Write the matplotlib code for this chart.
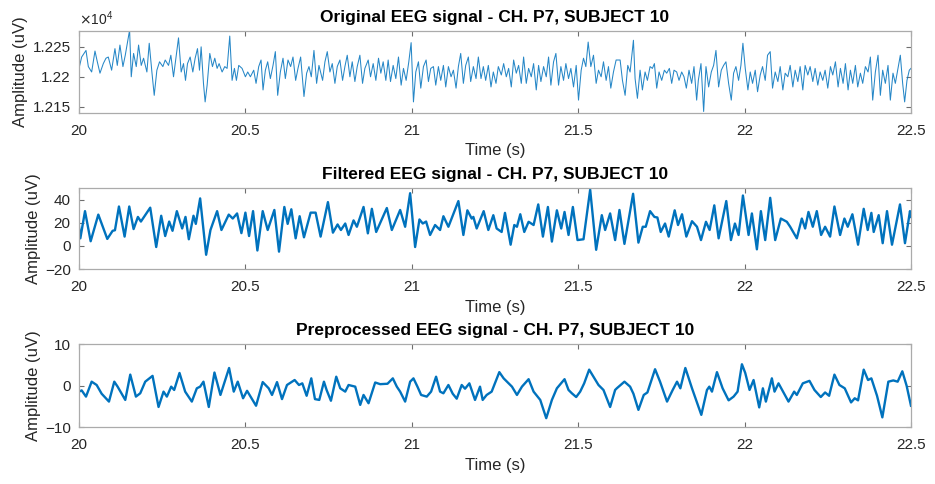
import numpy as np
import matplotlib
matplotlib.use("Agg")
import matplotlib.pyplot as plt
from matplotlib.ticker import FuncFormatter

plt.rcParams['font.family'] = ['Liberation Sans', 'DejaVu Sans']

# ---- data (time in s, amplitude in uV) ----
t_raw = [20.000, 20.008, 20.021, 20.028, 20.038, 20.048, 20.055, 20.063, 20.073, 20.081,
         20.088, 20.098, 20.108, 20.115, 20.123, 20.132, 20.139, 20.152, 20.157, 20.164,
         20.172, 20.179, 20.187, 20.194, 20.204, 20.211, 20.219, 20.226, 20.234, 20.242,
         20.252, 20.259, 20.269, 20.276, 20.284, 20.291, 20.299, 20.307, 20.314, 20.320,
         20.326, 20.334, 20.342, 20.349, 20.356, 20.362, 20.367, 20.374, 20.379, 20.385,
         20.393, 20.401, 20.408, 20.415, 20.421, 20.430, 20.438, 20.445, 20.453, 20.460,
         20.467, 20.473, 20.480, 20.490, 20.500, 20.507, 20.515, 20.525, 20.532, 20.540,
         20.547, 20.553, 20.560, 20.567, 20.575, 20.583, 20.590, 20.597, 20.605, 20.613,
         20.620, 20.628, 20.636, 20.643, 20.651, 20.658, 20.666, 20.676, 20.684, 20.691,
         20.698, 20.706, 20.714, 20.721,
         20.732, 20.739, 20.746, 20.754, 20.761, 20.769, 20.776, 20.784, 20.792, 20.799,
         20.806, 20.814, 20.821, 20.829, 20.836, 20.844, 20.852, 20.859, 20.869, 20.876,
         20.884, 20.892, 20.900, 20.907, 20.914, 20.922, 20.929, 20.936, 20.944, 20.952,
         20.960, 20.968, 20.975, 20.983, 20.991, 20.998, 21.005, 21.012, 21.020, 21.027,
         21.035, 21.043, 21.050, 21.057, 21.065, 21.072, 21.080, 21.087, 21.095, 21.102,
         21.110, 21.118, 21.125, 21.133, 21.140, 21.147, 21.155, 21.162, 21.170, 21.177,
         21.185, 21.193, 21.200, 21.208, 21.215, 21.222, 21.230, 21.238, 21.245, 21.253,
         21.260, 21.269, 21.276, 21.284, 21.291, 21.299, 21.306, 21.314, 21.321, 21.329,
         21.336, 21.344, 21.351, 21.359, 21.366, 21.374, 21.381, 21.388, 21.396, 21.404,
         21.411, 21.418, 21.426, 21.433, 21.441, 21.448, 21.456, 21.463, 21.471, 21.478,
         21.486, 21.494, 21.501, 21.509, 21.516, 21.523, 21.530, 21.538, 21.546, 21.554,
         21.561, 21.569, 21.576, 21.584, 21.591, 21.598, 21.606, 21.614,
         21.626, 21.633, 21.641, 21.649, 21.656, 21.666, 21.671, 21.678, 21.686, 21.693,
         21.701, 21.708, 21.716, 21.723, 21.729, 21.736, 21.743, 21.751, 21.759, 21.766,
         21.774, 21.781, 21.788, 21.796, 21.803, 21.811, 21.818, 21.825, 21.833, 21.841,
         21.848, 21.856, 21.861, 21.869, 21.877, 21.884, 21.892, 21.900, 21.907, 21.914,
         21.922, 21.930, 21.937, 21.944, 21.952, 21.960, 21.967, 21.974, 21.982, 21.989,
         21.995, 22.002, 22.010, 22.017, 22.024, 22.032, 22.039, 22.047, 22.054, 22.062,
         22.069, 22.077, 22.084, 22.092, 22.100, 22.107, 22.115, 22.122, 22.130, 22.137,
         22.145, 22.152, 22.160, 22.167, 22.175, 22.182, 22.190, 22.197, 22.205, 22.212,
         22.220, 22.227, 22.235, 22.242, 22.250, 22.258, 22.265, 22.273, 22.281, 22.288,
         22.296, 22.303, 22.311, 22.318, 22.325, 22.333, 22.340, 22.348, 22.355, 22.363,
         22.371, 22.378, 22.385, 22.393, 22.401, 22.408, 22.415, 22.423, 22.431, 22.438,
         22.446, 22.453, 22.461, 22.468, 22.475, 22.481, 22.488, 22.495, 22.500]
v_raw = [12214, 12233, 12244, 12217, 12208, 12243, 12225, 12206, 12222, 12231,
         12233, 12211, 12247, 12219, 12253, 12217, 12236, 12278, 12200, 12239,
         12217, 12253, 12219, 12231, 12208, 12256, 12208, 12169, 12211, 12225,
         12217, 12228, 12219, 12236, 12200, 12231, 12265, 12208, 12222, 12194,
         12222, 12233, 12208, 12231, 12247, 12211, 12250, 12189, 12158, 12186,
         12239, 12217, 12231, 12214, 12222, 12208, 12217, 12214, 12268, 12194,
         12214, 12194, 12219, 12214, 12200, 12208, 12200, 12211, 12189, 12217,
         12228, 12178, 12211, 12225, 12197, 12219, 12242, 12169, 12208, 12231,
         12197, 12228, 12217, 12233, 12194, 12214, 12233, 12167, 12206, 12217,
         12200, 12244, 12189, 12219,
         12194, 12225, 12242, 12208, 12222, 12189, 12217, 12228, 12194, 12217,
         12236, 12200, 12225, 12192, 12217, 12236, 12189, 12214, 12228, 12200,
         12222, 12194, 12231, 12206, 12225, 12194, 12228, 12192, 12219, 12197,
         12233, 12186, 12214, 12194, 12225, 12257, 12158, 12208, 12225, 12181,
         12217, 12228, 12192, 12214, 12217, 12186, 12217, 12194, 12219, 12183,
         12217, 12200, 12211, 12181, 12217, 12239, 12189, 12219, 12233, 12192,
         12217, 12197, 12233, 12197, 12217, 12194, 12219, 12183, 12208, 12189,
         12217, 12203, 12222, 12200, 12214, 12183, 12228, 12206, 12219, 12189,
         12233, 12189, 12214, 12200, 12222, 12178, 12219, 12192, 12217, 12200,
         12233, 12186, 12225, 12239, 12186, 12217, 12194, 12222, 12197, 12214,
         12183, 12219, 12161, 12211, 12231, 12217, 12258, 12217, 12236, 12189,
         12211, 12200, 12225, 12194, 12217, 12181, 12208, 12228,
         12228, 12194, 12169, 12219, 12208, 12261, 12197, 12164, 12211, 12178,
         12208, 12194, 12217, 12214, 12222, 12181, 12208, 12194, 12211, 12206,
         12214, 12189, 12211, 12208, 12194, 12208, 12200, 12181, 12211, 12189,
         12217, 12161, 12194, 12222, 12142, 12217, 12183, 12208, 12219, 12244,
         12183, 12211, 12219, 12225, 12189, 12161, 12206, 12217, 12194, 12219,
         12256, 12214, 12178, 12208, 12189, 12211, 12175, 12203, 12217, 12194,
         12236, 12242, 12181, 12208, 12192, 12217, 12178, 12206, 12200, 12219,
         12183, 12211, 12192, 12217, 12178, 12219, 12203, 12217, 12192, 12214,
         12186, 12208, 12194, 12211, 12181, 12217, 12203, 12225, 12183, 12214,
         12189, 12222, 12178, 12211, 12189, 12219, 12183, 12206, 12189, 12217,
         12208, 12233, 12161, 12208, 12236, 12169, 12211, 12189, 12219, 12161,
         12206, 12189, 12214, 12236, 12189, 12158, 12194, 12211, 12214]

t_filt = [20.000, 20.004, 20.018, 20.035, 20.058, 20.085, 20.101, 20.108, 20.120, 20.137,
          20.151, 20.164, 20.177, 20.186, 20.214, 20.232, 20.247, 20.259, 20.271, 20.281,
          20.294, 20.310, 20.320, 20.330, 20.344, 20.351, 20.364, 20.382, 20.395, 20.415,
          20.428, 20.450, 20.462, 20.475, 20.488, 20.500, 20.511, 20.523, 20.536, 20.552,
          20.567, 20.587, 20.601, 20.617, 20.627, 20.638, 20.651, 20.663, 20.676, 20.696,
          20.711, 20.726, 20.748, 20.763, 20.777, 20.787, 20.800, 20.810, 20.825, 20.835,
          20.855, 20.868, 20.880, 20.893, 20.925, 20.940, 20.965, 20.980, 20.995, 21.010,
          21.023, 21.033, 21.043, 21.055, 21.070, 21.085, 21.095, 21.110, 21.140, 21.155,
          21.167, 21.180, 21.185, 21.195, 21.216, 21.230, 21.245, 21.255, 21.270, 21.280,
          21.297, 21.308, 21.316, 21.326, 21.338, 21.351, 21.366, 21.380, 21.394, 21.409,
          21.421, 21.436, 21.449, 21.459, 21.471, 21.484, 21.498, 21.516, 21.536, 21.554,
          21.571, 21.581, 21.596, 21.611, 21.624, 21.639, 21.665, 21.681, 21.694, 21.703,
          21.716, 21.729, 21.738, 21.748, 21.761, 21.772, 21.790, 21.800, 21.812, 21.825,
          21.842, 21.857, 21.869, 21.884, 21.895, 21.909, 21.922, 21.945, 21.959, 21.971,
          21.982, 21.995, 22.012, 22.022, 22.037, 22.049, 22.062, 22.077, 22.092, 22.109,
          22.127, 22.137, 22.157, 22.172, 22.182, 22.192, 22.205, 22.217, 22.230, 22.242,
          22.257, 22.270, 22.287, 22.300, 22.310, 22.324, 22.341, 22.358, 22.370, 22.381,
          22.388, 22.403, 22.415, 22.428, 22.443, 22.467, 22.482, 22.497, 22.500]
v_filt = [16.5, 6.5, 30, 4, 27, 6, 13, 13.5, 34, 8,
          34, 14.5, 25, 21, 33, -1, 26, 8.5, 21, 13,
          30, 15, 25, 5.7, 26, 19, 41, -7.7, 13.7, 30,
          13.7, 27, 23.6, 28, 11, 28.7, 8.5, 30, -4, 30,
          13.7, 31, -5, 33.6, 19, 31.6, 6.5, 25.6, 7.4, 28.7,
          28.7, 8, 37.8, 11.4, 18.5, 13.7, 19.3, 9.4, 22, 16.5,
          33.6, 10.8, 32, 12, 32.7, 13.7, 31, 16.5, 45.5, -1,
          22.8, 19.3, 21, 9.4, 18, 13.7, 25.6, 16.5, 38.7, 9.4,
          30.7, 23.6, 25, 15, 30, 13.7, 26.5, 15, 12, 28.5,
          1, 18, 16.5, 27.3, 12, 20.8, 18, 35.8, 8, 33.6,
          3.7, 30.7, 15, 29.3, 9.4, 33.6, 5, 5.7, 48.6, -3.4,
          26.5, 13.7, 28, 5, 31, 1.7, 45, 2.8, 16.5, 16.5,
          30, 25, 24.5, 12, 19.3, 8, 30.7, 18, 27.3, 8,
          21.3, 16.5, 5, 20.8, 13.7, 35, 6.5, 38.7, 5, 19.3,
          9.4, 43.5, 9.4, 28, -3, 30, 5, 41.5, 5, 23.6,
          20.8, 16.5, 6.5, 23.6, 15, 29.3, 16.5, 30, 9.4, 16.5,
          8, 34, 9.4, 23.6, 16.5, 27.3, 1, 32, 13.7, 28.5,
          12, 26.5, 2.3, 30, 1, 35.8, 2.3, 30, 25]

t_prep = [20.000, 20.008, 20.021, 20.038, 20.053, 20.068, 20.090, 20.106, 20.116, 20.139,
          20.154, 20.171, 20.184, 20.199, 20.221, 20.239, 20.254, 20.264, 20.277, 20.286,
          20.302, 20.319, 20.339, 20.354, 20.364, 20.374, 20.390, 20.407, 20.425, 20.451,
          20.465, 20.477, 20.493, 20.505, 20.532, 20.552, 20.570, 20.580, 20.595, 20.610,
          20.625, 20.648, 20.661, 20.671, 20.684, 20.698, 20.709, 20.722, 20.736, 20.744,
          20.757, 20.773, 20.785, 20.800, 20.810, 20.830, 20.845, 20.855, 20.870, 20.890,
          20.905, 20.927, 20.943, 20.955, 20.965, 20.980, 20.995, 21.005, 21.017, 21.028,
          21.045, 21.058, 21.073, 21.085, 21.095, 21.110, 21.123, 21.135, 21.150, 21.160,
          21.173, 21.190, 21.205, 21.213, 21.225, 21.240, 21.263, 21.276, 21.301, 21.316,
          21.331, 21.351, 21.366, 21.386, 21.404, 21.421, 21.436, 21.459, 21.471, 21.481,
          21.494, 21.506, 21.518, 21.533, 21.546, 21.561, 21.576, 21.596, 21.611, 21.616,
          21.639, 21.656, 21.666, 21.681, 21.697, 21.708, 21.731, 21.746, 21.767, 21.784,
          21.797, 21.807, 21.822, 21.842, 21.870, 21.887, 21.894, 21.902, 21.917, 21.934,
          21.952, 21.967, 21.979, 21.992, 22.002, 22.015, 22.027, 22.044, 22.055, 22.064,
          22.082, 22.090, 22.102, 22.132, 22.149, 22.157, 22.175, 22.195, 22.210, 22.229,
          22.242, 22.254, 22.270, 22.285, 22.301, 22.320, 22.331, 22.341, 22.358, 22.371,
          22.381, 22.398, 22.414, 22.432, 22.447, 22.460, 22.474, 22.487, 22.500]
v_prep = [-1.4, -1.1, -2.6, 1.0, 0.2, -1.9, -3.8, 1.0, -0.2, -3.4,
          2.7, -2.6, -1.8, 1.0, 2.4, -5.1, -1.4, -2.6, -0.2, -1.0,
          3.1, -1.4, -3.8, -0.6, -0.2, 1.0, -5.1, 3.2, -2.2, 4.3,
          -1.4, 1.0, -3.0, -1.2, -4.8, 0.9, -0.6, -2.2, 0.9, -3.2,
          0.2, 1.4, 0.2, 0.6, -2.4, 1.8, -3.2, -3.4, 1.0, -1.0,
          -3.6, 2.2, -0.6, -1.4, 0.2, -0.2, -4.6, -2.2, -4.2, 0.8,
          0.4, 0.5, 1.8, -0.2, -1.4, -3.8, 1.0, 1.8, -0.2, -2.2,
          -2.6, -1.4, 2.2, -1.4, -1.8, 0.2, -1.9, -3.1, 0.2, -0.7,
          0.6, -3.4, -0.2, -3.4, -2.2, -1.4, 3.3, 1.8, -0.2, -2.2,
          -0.2, 1.6, -1.4, -3.4, -7.8, -3.4, -0.6, 1.6, -1.0, -1.8,
          -2.7, -1.4, 0.6, 3.9, 2.2, 0.2, -1.0, -5.1, -1.0, -0.6,
          1.0, -0.2, -1.9, -5.8, -2.2, -1.6, 4.0, 1.0, -3.8, -1.0,
          1.0, -0.6, 4.3, -0.6, -7.0, -1.0, -0.2, -1.4, 3.3, -0.6,
          -3.5, -2.6, -1.4, 5.2, 3.1, -1.0, 1.4, -5.2, -0.6, -3.8,
          1.8, -1.4, 0.6, -3.8, -1.4, -2.2, 0.6, 1.2, -1.0, -2.7,
          -1.6, -2.4, 2.7, 0.2, -0.6, -4.0, -3.0, -3.5, 3.9, 1.4,
          1.8, -2.4, -7.6, 1.0, 1.3, 1.0, 3.5, 0.0, -4.8]

titles = ["Original EEG signal - CH. P7, SUBJECT 10",
          "Filtered EEG signal - CH. P7, SUBJECT 10",
          "Preprocessed EEG signal - CH. P7, SUBJECT 10"]
x_ticks = [20, 20.5, 21, 21.5, 22, 22.5]

LINE = '#0072BD'
BOX = '#ababab'
TICK = '#6e6e6e'
TXT = '#262626'

fig = plt.figure(figsize=(9.35, 4.84), dpi=100)
ax1 = fig.add_axes([0.0845, 0.7672, 0.8898, 0.1694])
ax2 = fig.add_axes([0.0845, 0.4442, 0.8898, 0.1674])
ax3 = fig.add_axes([0.0845, 0.1171, 0.8898, 0.1715])

ax1.plot(t_raw, v_raw, color=LINE, lw=0.75, alpha=0.85)
ax2.plot(t_filt, v_filt, color=LINE, lw=1.7, solid_joinstyle='round')
ax3.plot(t_prep, v_prep, color=LINE, lw=1.7, solid_joinstyle='round')

ax1.set_ylim(12140, 12277)
ax1.set_yticks([12150, 12200, 12250])
ax1.yaxis.set_major_formatter(FuncFormatter(lambda v, p: '%g' % (v / 1e4)))
ax1.text(0.0, 1.03, r'$\times\mathregular{10^4}$', transform=ax1.transAxes,
         fontsize=10, color=TXT, ha='left', va='bottom')

ax2.set_ylim(-20, 50)
ax2.set_yticks([-20, 0, 20, 40])

ax3.set_ylim(-10, 10)
ax3.set_yticks([-10, 0, 10])

for ax, title in zip([ax1, ax2, ax3], titles):
    ax.set_xlim(20, 22.5)
    ax.set_xticks(x_ticks)
    ax.set_xticklabels(['%g' % x for x in x_ticks])
    ax.tick_params(direction='in', length=3.5, width=0.8, color=TICK,
                   labelsize=11, labelcolor=TXT, top=True, right=True, pad=6)
    ax.tick_params(axis='x', pad=8)
    for s in ax.spines.values():
        s.set_color(BOX)
        s.set_linewidth(0.9)
    ax.set_title(title, fontsize=12.5, fontweight='bold', color='black', pad=6.5)
    ax.set_xlabel('Time (s)', fontsize=12, color=TXT, labelpad=4)
    ax.set_ylabel('Amplitude (uV)', fontsize=12, color=TXT, labelpad=3)

fig.savefig('out.png', dpi=100)
